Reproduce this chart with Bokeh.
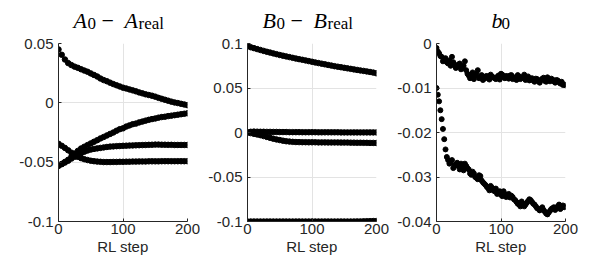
from bokeh.plotting import figure
from bokeh.layouts import row, column
from bokeh.models import FixedTicker, Range1d
from bokeh.core.properties import value
from bokeh.embed import file_html
from bokeh.resources import INLINE

# ---------------- data ----------------
steps5 = list(range(0, 201, 5))
steps4 = list(range(0, 201, 4))
steps4b = list(range(2, 200, 4))

# Panel 1: A0 - Areal (four components)
a_top = [0.0450, 0.0405, 0.0365, 0.0335, 0.0318, 0.0305, 0.0295, 0.0283, 0.0272, 0.0262,
         0.0248, 0.0235, 0.0222, 0.0205, 0.0192, 0.0182, 0.0170, 0.0158, 0.0148, 0.0138,
         0.0128, 0.0121, 0.0113, 0.0105, 0.0097, 0.0088, 0.0080, 0.0072, 0.0066, 0.0060,
         0.0052, 0.0042, 0.0034, 0.0026, 0.0018, 0.0010, 0.0003, -0.0002, -0.0008, -0.0014,
         -0.0020]
a_rise = [-0.0530, -0.0515, -0.0498, -0.0480, -0.0455, -0.0428, -0.0405, -0.0385, -0.0370, -0.0356,
          -0.0342, -0.0328, -0.0315, -0.0300, -0.0288, -0.0275, -0.0262, -0.0250, -0.0235, -0.0222,
          -0.0215, -0.0200, -0.0190, -0.0180, -0.0175, -0.0165, -0.0158, -0.0150, -0.0143, -0.0137,
          -0.0132, -0.0125, -0.0120, -0.0117, -0.0112, -0.0108, -0.0104, -0.0100, -0.0096, -0.0092,
          -0.0088]
a_mid = [-0.0530, -0.0517, -0.0503, -0.0488, -0.0470, -0.0455, -0.0440, -0.0425, -0.0412, -0.0402,
         -0.0394, -0.0388, -0.0384, -0.0380, -0.0376, -0.0372, -0.0369, -0.0367, -0.0365, -0.0364,
         -0.0362, -0.0361, -0.0360, -0.0359, -0.0358, -0.0357, -0.0356, -0.0355, -0.0354, -0.0353,
         -0.0352, -0.0352, -0.0353, -0.0353, -0.0354, -0.0354, -0.0355, -0.0355, -0.0355, -0.0355,
         -0.0355]
a_low = [-0.0345, -0.0362, -0.0380, -0.0400, -0.0420, -0.0438, -0.0455, -0.0466, -0.0475, -0.0482,
         -0.0488, -0.0492, -0.0495, -0.0497, -0.0499, -0.0499, -0.0499, -0.0498, -0.0498, -0.0497,
         -0.0497, -0.0496, -0.0496, -0.0495, -0.0495, -0.0494, -0.0494, -0.0494, -0.0493, -0.0493,
         -0.0493, -0.0493, -0.0492, -0.0492, -0.0492, -0.0492, -0.0492, -0.0492, -0.0492, -0.0492,
         -0.0492]

# Panel 2: B0 - Breal (four components)
b_top = [0.0970, 0.0958, 0.0948, 0.0937, 0.0927, 0.0917, 0.0907, 0.0898, 0.0889, 0.0880,
         0.0871, 0.0863, 0.0855, 0.0847, 0.0839, 0.0831, 0.0824, 0.0817, 0.0810, 0.0802,
         0.0795, 0.0787, 0.0780, 0.0773, 0.0766, 0.0759, 0.0752, 0.0745, 0.0739, 0.0733,
         0.0727, 0.0721, 0.0715, 0.0709, 0.0703, 0.0697, 0.0692, 0.0686, 0.0680, 0.0673,
         0.0665]
b_zero = [0.0000, 0.0008, 0.0010, 0.0009, 0.0008, 0.0008, 0.0007, 0.0007, 0.0006, 0.0006,
          0.0005, 0.0005, 0.0005, 0.0004, 0.0004, 0.0004, 0.0004, 0.0003, 0.0003, 0.0003,
          0.0003, 0.0003, 0.0002, 0.0002, 0.0002, 0.0002, 0.0002, 0.0002, 0.0002, 0.0001,
          0.0001, 0.0001, 0.0001, 0.0001, 0.0001, 0.0001, 0.0001, 0.0001, 0.0001, 0.0001,
          0.0001]
b_neg = [0.0000, -0.0007, -0.0015, -0.0022, -0.0030, -0.0040, -0.0050, -0.0060, -0.0070, -0.0078,
         -0.0085, -0.0092, -0.0098, -0.0102, -0.0105, -0.0107, -0.0108, -0.0109, -0.0109, -0.0110,
         -0.0110, -0.0110, -0.0111, -0.0111, -0.0111, -0.0112, -0.0112, -0.0112, -0.0112, -0.0113,
         -0.0113, -0.0113, -0.0114, -0.0114, -0.0115, -0.0115, -0.0116, -0.0116, -0.0117, -0.0117,
         -0.0118]
b_low = [-0.1000, -0.1000, -0.1000, -0.1000, -0.1000, -0.1000, -0.1000, -0.1000, -0.1000, -0.1000,
         -0.1000, -0.1000, -0.1000, -0.1000, -0.1000, -0.1000, -0.1000, -0.1000, -0.1000, -0.1000,
         -0.1000, -0.1000, -0.1000, -0.1000, -0.1000, -0.1000, -0.1000, -0.1000, -0.1000, -0.1000,
         -0.1000, -0.1000, -0.1000, -0.1000, -0.0999, -0.0999, -0.0998, -0.0997, -0.0996, -0.0995,
         -0.0995]

# Panel 3: b0 (two components, noisy) - steps 0,4,...,200 and 2,6,...,198
c_top = [-0.0010, -0.0022, -0.0030, -0.0035, -0.0042, -0.0038, -0.0030, -0.0048, -0.0052, -0.0045,
         -0.0055, -0.0040, -0.0068, -0.0078, -0.0065, -0.0072, -0.0060, -0.0075, -0.0082, -0.0074,
         -0.0078, -0.0070, -0.0076, -0.0080, -0.0072, -0.0068, -0.0075, -0.0073, -0.0079, -0.0071,
         -0.0076, -0.0082, -0.0074, -0.0078, -0.0070, -0.0077, -0.0083, -0.0078, -0.0086, -0.0080,
         -0.0088, -0.0079, -0.0084, -0.0076, -0.0085, -0.0081, -0.0088, -0.0083, -0.0090, -0.0093,
         -0.0094]
c_top_b = [-0.0018, -0.0028, -0.0040, -0.0033, -0.0045, -0.0050, -0.0042, -0.0055, -0.0047, -0.0058,
           -0.0050, -0.0060, -0.0072, -0.0070, -0.0080, -0.0068, -0.0078, -0.0071, -0.0079, -0.0073,
           -0.0081, -0.0074, -0.0078, -0.0075, -0.0081, -0.0070, -0.0078, -0.0074, -0.0072, -0.0080,
           -0.0077, -0.0071, -0.0080, -0.0075, -0.0082, -0.0074, -0.0080, -0.0083, -0.0079, -0.0084,
           -0.0082, -0.0077, -0.0086, -0.0081, -0.0079, -0.0085, -0.0082, -0.0087, -0.0086, -0.0092]
c_low = [-0.0100, -0.0130, -0.0170, -0.0215, -0.0255, -0.0270, -0.0262, -0.0275, -0.0268, -0.0283,
         -0.0278, -0.0270, -0.0280, -0.0292, -0.0288, -0.0300, -0.0305, -0.0298, -0.0312, -0.0318,
         -0.0325, -0.0320, -0.0330, -0.0326, -0.0335, -0.0340, -0.0332, -0.0345, -0.0338, -0.0342,
         -0.0350, -0.0356, -0.0362, -0.0355, -0.0366, -0.0358, -0.0350, -0.0356, -0.0362, -0.0370,
         -0.0375, -0.0368, -0.0378, -0.0384, -0.0376, -0.0370, -0.0374, -0.0366, -0.0372, -0.0364,
         -0.0366]
c_low_b = [-0.0115, -0.0150, -0.0192, -0.0238, -0.0262, -0.0268, -0.0280, -0.0272, -0.0276, -0.0270,
           -0.0285, -0.0275, -0.0283, -0.0295, -0.0292, -0.0302, -0.0296, -0.0308, -0.0315, -0.0322,
           -0.0330, -0.0324, -0.0332, -0.0338, -0.0332, -0.0343, -0.0338, -0.0341, -0.0346, -0.0345,
           -0.0352, -0.0360, -0.0366, -0.0360, -0.0362, -0.0354, -0.0352, -0.0360, -0.0366, -0.0372,
           -0.0372, -0.0374, -0.0382, -0.0380, -0.0372, -0.0368, -0.0370, -0.0362, -0.0368, -0.0368]

x_ticks = [0, 100, 200]
y_ticks_a = [-0.1, -0.05, 0, 0.05]
y_labels_a = ["-0.1", "-0.05", "0", "0.05"]
y_ticks_b = [-0.1, -0.05, 0, 0.05, 0.1]
y_labels_b = ["-0.1", "-0.05", "0", "0.05", "0.1"]
y_ticks_c = [-0.04, -0.03, -0.02, -0.01, 0]
y_labels_c = ["-0.04", "-0.03", "-0.02", "-0.01", "0"]

AX = "#262626"
GRID = "#e3e3e3"
SANS = "Liberation Sans"
SERIF = "Liberation Serif"
TITLE_H = 33
FRAME_W = 129


def make_panel(yr, yt, yl, left, right):
    p = figure(output_backend="svg", toolbar_location=None, title=None,
               frame_width=FRAME_W, frame_height=178,
               x_range=Range1d(0, 200), y_range=Range1d(*yr),
               min_border_left=left, min_border_right=right,
               min_border_top=10, min_border_bottom=33)
    p.outline_line_color = None
    p.xaxis.ticker = FixedTicker(ticks=x_ticks)
    p.yaxis.ticker = FixedTicker(ticks=yt)
    p.yaxis.major_label_overrides = {t: s for t, s in zip(yt, yl)}
    for ax in (p.xaxis, p.yaxis):
        ax.axis_line_color = AX
        ax.major_tick_line_color = AX
        ax.major_tick_in = 3
        ax.major_tick_out = 0
        ax.minor_tick_line_color = None
        ax.major_label_text_font = SANS
        ax.major_label_text_font_size = "15px"
        ax.major_label_text_color = AX
    p.yaxis.major_label_standoff = 5
    p.xaxis.major_label_standoff = 2
    p.xaxis.axis_label = "RL step"
    p.xaxis.axis_label_text_font = SANS
    p.xaxis.axis_label_text_font_size = "15px"
    p.xaxis.axis_label_text_font_style = "normal"
    p.xaxis.axis_label_text_color = AX
    p.xaxis.axis_label_standoff = 1
    p.xgrid.grid_line_color = GRID
    p.ygrid.grid_line_color = GRID
    return p


def make_title(left, right, pieces):
    # a text-only strip whose frame lines up with the panel's frame below it
    t = figure(output_backend="svg", toolbar_location=None, title=None,
               frame_width=FRAME_W, frame_height=TITLE_H,
               x_range=Range1d(0, FRAME_W), y_range=Range1d(0, TITLE_H),
               x_axis_type=None, y_axis_type=None,
               min_border_left=left, min_border_right=right,
               min_border_top=0, min_border_bottom=0)
    t.outline_line_color = None
    t.grid.visible = False
    for txt, x, y, size, style in pieces:
        t.text(x=[x], y=[y], text=[txt], text_font=value(SERIF),
               text_font_size=value(size), text_font_style=style,
               text_baseline="alphabetic", text_align="left", text_color="black")
    return t


MAIN_Y, SUB_Y = 13, 10

p1 = make_panel((-0.1, 0.05), y_ticks_a, y_labels_a, 58, 13)
for s in (a_top, a_rise, a_mid, a_low):
    p1.scatter(steps5, s, size=5.5, color="black")
t1 = make_title(58, 13, [("A", 15, MAIN_Y, "22px", "italic"), ("0", 29, SUB_Y, "17px", "normal"),
                         ("\u2212", 43, MAIN_Y, "22px", "normal"), ("A", 66, MAIN_Y, "22px", "italic"),
                         ("real", 80, SUB_Y, "17px", "normal")])

p2 = make_panel((-0.1, 0.1), y_ticks_b, y_labels_b, 47, 14)
for s in (b_top, b_zero, b_neg, b_low):
    p2.scatter(steps5, s, size=5.5, color="black")
t2 = make_title(47, 14, [("B", 15, MAIN_Y, "22px", "italic"), ("0", 29, SUB_Y, "17px", "normal"),
                         ("\u2212", 43, MAIN_Y, "22px", "normal"), ("B", 66, MAIN_Y, "22px", "italic"),
                         ("real", 80, SUB_Y, "17px", "normal")])

p3 = make_panel((-0.04, 0), y_ticks_c, y_labels_c, 46, 25)
for xs, s in ((steps4, c_top), (steps4b, c_top_b), (steps4, c_low), (steps4b, c_low_b)):
    p3.scatter(xs, s, size=5, color="black")
t3 = make_title(46, 25, [("b", 55, MAIN_Y, "22px", "italic"), ("0", 65, SUB_Y, "17px", "normal")])

layout = row(column(t1, p1), column(t2, p2), column(t3, p3))
open("out.html", "w").write(file_html(layout, INLINE))
